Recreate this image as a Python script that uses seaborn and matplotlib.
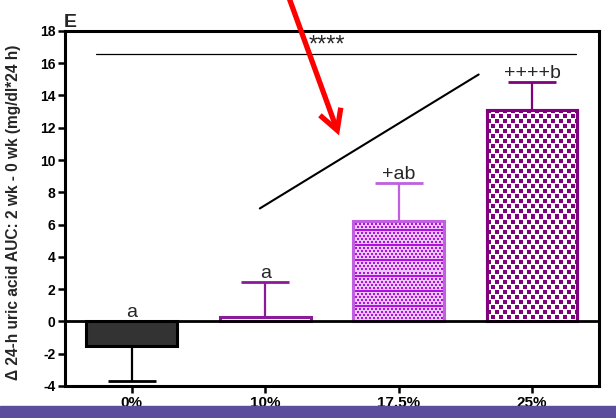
import matplotlib
matplotlib.use("Agg")
import matplotlib.pyplot as plt
import seaborn as sns
import pandas as pd
import numpy as np
from matplotlib.patches import FancyArrowPatch, Rectangle
from matplotlib.colors import to_rgba

groups = ["0%", "10%", "17.5%", "25%"]
means = [-1.5, 0.3, 6.2, 13.1]
errs = [2.2, 2.15, 2.4, 1.75]
letters = ["a", "a", "+ab", "++++b"]
fills = ["#333333", "#ffffff", "#ecc6f6", "#ffffff"]
edges = ["#000000", "#8a1a9a", "#c060e0", "#800080"]
yticks = list(range(-4, 19, 2))
sig_y = 16.6

sns.set_style("white")
plt.rcParams['font.family'] = ['Arial', 'Liberation Sans', 'DejaVu Sans']

fig = plt.figure(figsize=(6.16, 4.18), dpi=100)
ax = fig.add_axes([0.1055, 0.0766, 0.8665, 0.8494])

df = pd.DataFrame({"group": groups, "value": means})
sns.barplot(data=df, x="group", y="value", hue="group", palette=fills,
            order=groups, legend=False, width=0.68, ax=ax, errorbar=None)
ax.set_ylim(-4, 18)
ax.set_xlim(-0.5, 3.5)
for i, p in enumerate(ax.patches):
    p.set_edgecolor(edges[i])
    p.set_linewidth(2.2)
    p.set_facecolor(fills[i])
    p.set_zorder(2)

fig.canvas.draw()


def overlay(bar, img, edgecolor):
    x0, y0 = bar.get_x(), bar.get_y()
    w, h = bar.get_width(), bar.get_height()
    im = ax.imshow(img, extent=[x0, x0 + w, y0, y0 + h], origin="upper",
                   interpolation="nearest", aspect="auto", zorder=2.5)
    im.set_clip_path(bar)
    ax.add_patch(Rectangle((x0, y0), w, h, fill=False, edgecolor=edgecolor,
                           lw=2.2, zorder=3))


# 17.5% bar: small purple dots on lilac, horizontal lines
bar = ax.patches[2]
bb = bar.get_window_extent()
nx, ny = int(round(bb.width)), int(round(bb.height))
img = np.ones((ny, nx, 4))
img[:, :] = to_rgba(fills[2])
dot = np.array(to_rgba("#b010e0"))
for r in range(ny):
    rr = r % 6
    if rr in (0, 1):
        off = 0
    elif rr in (3, 4):
        off = 2
    else:
        continue
    for c in range(nx):
        if ((c + off) % 4) < 2:
            img[r, c] = dot
for r in range(9, ny, 15):
    img[r:r + 2, :] = dot
overlay(bar, img, edges[2])

# 25% bar: checker pattern
bar = ax.patches[3]
bb = bar.get_window_extent()
nx, ny = int(round(bb.width)), int(round(bb.height))
img = np.ones((ny, nx, 4))
col = np.array(to_rgba(edges[3]))
for r in range(ny):
    rr = r % 10
    if rr < 4:
        off = 0
    elif 5 <= rr < 9:
        off = 4
    else:
        continue
    for c in range(nx):
        if ((c + off) % 8) < 4:
            img[r, c] = col
overlay(bar, img, edges[3])

for i, (m, e) in enumerate(zip(means, errs)):
    if m < 0:
        yerr = [[e], [0]]
    else:
        yerr = [[0], [e]]
    ax.errorbar(i, m, yerr=yerr, fmt="none", ecolor=edges[i],
                elinewidth=1.6, capsize=17, capthick=2.0, zorder=1)

ax.axhline(0, color="black", lw=2, zorder=5)

# letters
lpos = [0.0, 2.45, 8.6, 14.85]
for i, t in enumerate(letters):
    ax.text(i, lpos[i], t, ha="center", va="bottom", fontsize=14)

ax.plot([-0.27, 3.33], [sig_y, sig_y], color="black", lw=0.9)
ax.text(1.46, sig_y - 0.2, "****", ha="center", va="bottom", fontsize=17)

ax.plot([0.96, 2.6], [7.0, 15.3], color="black", lw=1.5)

ax.set_ylim(-4, 18)
ax.set_xlim(-0.5, 3.5)
ax.set_yticks(yticks)
ax.set_yticklabels([str(v) for v in yticks], fontweight="bold", fontsize=10)
ax.set_xticks(range(len(groups)))
ax.set_xticklabels(groups, fontweight="bold", fontsize=11)
ax.set_xlabel("")
ax.set_ylabel("Δ 24-h uric acid AUC: 2 wk - 0 wk (mg/dl*24 h)",
              fontweight="bold", fontsize=11.2)
ax.yaxis.set_label_coords(-0.082, 0.49)
ax.tick_params(axis="both", direction="out", length=5, width=1.8,
               left=True, bottom=True, pad=2, colors="black")
for s in ax.spines.values():
    s.set_linewidth(2.2)
    s.set_color("black")

fig.text(0.103, 0.935, "E", fontweight="bold", fontsize=14, ha="left", va="baseline")

# red arrow
arr = FancyArrowPatch((288/616, 1 + 5/418), (340/616, 1 - 138/418), transform=fig.transFigure,
                      arrowstyle="->,head_length=9,head_width=5", color="red",
                      lw=3.8, mutation_scale=1.6, capstyle="butt", joinstyle="miter")
fig.patches.append(arr)

# purple bottom band
fig.patches.append(Rectangle((0, 0), 1, 12/418, transform=fig.transFigure,
                             color="#5b4d9c", zorder=10))

fig.savefig("out.png", dpi=100)
